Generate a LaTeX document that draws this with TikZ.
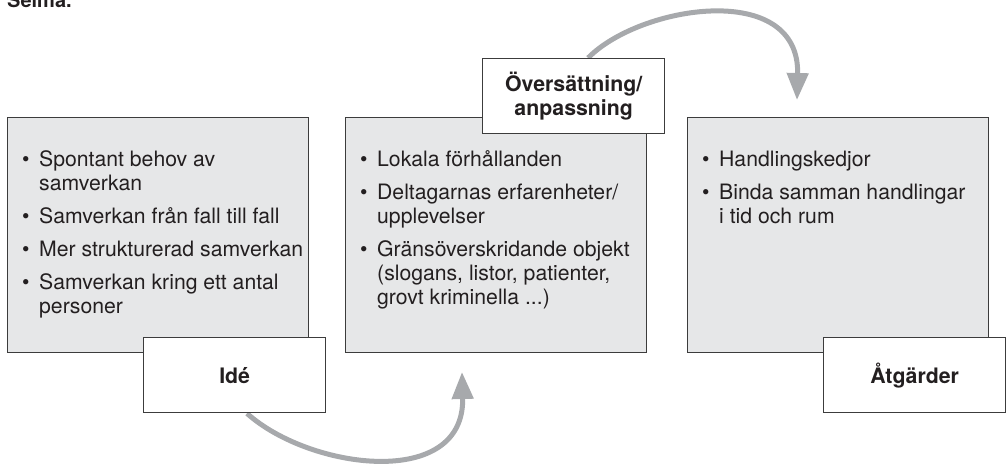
\documentclass[tikz,border=0pt]{standalone}
\usepackage{fontspec}
\setmainfont{TeX Gyre Heros}
\usetikzlibrary{arrows.meta,calc}
\definecolor{boxgrey}{HTML}{E6E7E8}
\definecolor{edge}{HTML}{3C3C3C}
\definecolor{arrowgrey}{HTML}{A7A9AC}
\definecolor{ink}{HTML}{231F20}
\newcommand{\bul}{\makebox[17pt][l]{\textbullet}}
\newcommand{\ind}{\hspace*{17pt}}
\newcommand{\fst}{\rule{0pt}{16pt}}
\pgfdeclarelayer{behind}
\pgfsetlayers{behind,main}
\begin{document}
\begin{tikzpicture}[x=1pt,y=-1pt,
  greybox/.style={draw=edge, line width=1.4pt, fill=boxgrey, minimum width=301pt, minimum height=235pt, anchor=north west, inner sep=0pt},
  labelbox/.style={draw=edge, line width=1.4pt, fill=white, minimum width=182pt, minimum height=75pt, anchor=north west, inner sep=0pt, font=\fontsize{21.3}{24}\selectfont\bfseries, align=center, text=ink},
  listtext/.style={anchor=north west, inner sep=0pt, align=left, font=\fontsize{21.2}{24}\selectfont, text=ink},
  flow/.style={draw=arrowgrey, line width=5pt, -{Triangle[length=27pt,width=21pt]}}]
\useasboundingbox (0,0) rectangle (1006,464);
\clip (0,0) rectangle (1006,464);

\node[anchor=base west, inner sep=0pt, font=\fontsize{20}{24}\selectfont\bfseries, text=ink] (selma) at (7,7) {Selma.};

\node[greybox] (b1) at (7,117) {};
\node[greybox] (b2) at (345,117) {};
\node[greybox] (b3) at (687,117) {};

\node[listtext] (t1) at (22,150) {\fst\bul Spontant behov av\\ \ind samverkan\\[9pt]
\bul Samverkan från fall till fall\\[9pt]
\bul Mer strukturerad samverkan\\[9pt]
\bul Samverkan kring ett antal\\ \ind personer};

\node[listtext] (t2) at (360,150) {\fst\bul Lokala förhållanden\\[9pt]
\bul Deltagarnas erfarenheter/\\ \ind upplevelser\\[9pt]
\bul Gränsöverskridande objekt\\ \ind (slogans, listor, patienter,\\ \ind grovt kriminella ...)};

\node[listtext] (t3) at (702,150) {\fst\bul Handlingskedjor\\[9pt]
\bul Binda samman handlingar\\ \ind i tid och rum};

\node[labelbox] (ide) at (143,337) {Idé};
\node[labelbox] (ov) at (482,58) {Översättning/\\anpassning};
\node[labelbox] (atg) at (823,337) {Åtgärder};

\coordinate (tip1) at (462,372);
\coordinate (tip2) at (797,100);

\begin{pgfonlayer}{behind}
\draw[flow] ($(ide.south west)+(104,0)$) .. controls (310,470) and (465,490) .. (tip1);
\draw[flow] ($(ov.north west)+(106,0)$) .. controls (640,5) and (800,-20) .. (tip2);
\end{pgfonlayer}
\end{tikzpicture}
\end{document}
